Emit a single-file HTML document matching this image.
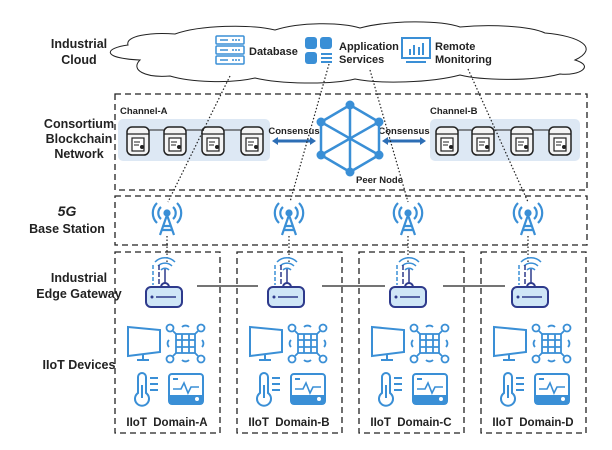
<!DOCTYPE html>
<html><head><meta charset="utf-8"><style>
body{margin:0;background:#fff}
svg{display:block;font-family:"Liberation Sans",sans-serif;font-weight:bold}
</style></head><body>
<svg width="612" height="450" viewBox="0 0 612 450" xmlns="http://www.w3.org/2000/svg">
<defs>
<g id="blk">
 <rect x="0" y="0" width="22" height="28" rx="5" fill="#f4f4f4" stroke="#222" stroke-width="1.5"/>
 <line x1="0" y1="7" x2="22" y2="7" stroke="#222" stroke-width="1.2"/>
 <rect x="5" y="11" width="12" height="13" fill="#fff" stroke="#222" stroke-width="1.2"/>
 <line x1="7" y1="15" x2="13" y2="15" stroke="#222"/><line x1="7" y1="18" x2="12" y2="18" stroke="#222"/>
 <circle cx="15" cy="20" r="2" fill="#222"/>
</g>
<g id="tower" fill="none" stroke="#3a8fd6" stroke-width="2.2">
 <circle cx="0" cy="0" r="2.5" fill="#3a8fd6"/>
 <path d="M-6,-6 A8,8 0 0 0 -6,6 M6,-6 A8,8 0 0 1 6,6 M-10,-10 A14,14 0 0 0 -10,10 M10,-10 A14,14 0 0 1 10,10"/>
 <path d="M0,2 L-7,22 M0,2 L7,22 M-4.5,13 L4.5,13 M-5.5,17 L5.5,17"/>
</g>
<g id="dom">
 <rect x="115" y="252" width="105" height="181" fill="none" stroke="#222" stroke-width="1.3" stroke-dasharray="6,4"/>
 <rect x="146" y="287" width="36" height="20" rx="5" fill="#cfe6f7" stroke="#2e3a8c" stroke-width="2"/>
 <line x1="156" y1="297" x2="176" y2="297" stroke="#2e3a8c" stroke-width="1.5"/>
 <circle cx="152" cy="297" r="1.5" fill="#2e3a8c"/>
 <path d="M161,287 a4,4 0 0 1 8,0" fill="none" stroke="#2e3a8c" stroke-width="2"/>
 <line x1="165" y1="283" x2="165" y2="268" stroke="#2e3a8c" stroke-width="1.5"/>
 <path d="M161,270 a5.5,5.5 0 0 1 8,0 M158,266 a10,10 0 0 1 14,0 M155,262 a14,14 0 0 1 20,0" fill="none" stroke="#3a8fd6" stroke-width="1.5"/>
 <line x1="153" y1="265" x2="153" y2="285" stroke="#3a8fd6" stroke-width="1.5" stroke-dasharray="4,2"/>
 <line x1="159" y1="265" x2="159" y2="285" stroke="#2e3a8c" stroke-width="1.5" stroke-dasharray="5,2"/>
 <path d="M128,327 L160,330 L160,352 L128,356 Z" fill="none" stroke="#3a8fd6" stroke-width="2"/>
 <line x1="143" y1="355" x2="143" y2="360" stroke="#3a8fd6" stroke-width="2"/>
 <line x1="137" y1="360" x2="149" y2="360" stroke="#3a8fd6" stroke-width="2"/>
 <g fill="none" stroke="#3a8fd6" stroke-width="1.8">
  <rect x="176" y="334" width="19" height="19"/>
  <circle cx="170" cy="328" r="3.5"/><circle cx="201" cy="328" r="3.5"/><circle cx="170" cy="359" r="3.5"/><circle cx="201" cy="359" r="3.5"/>
  <line x1="173" y1="331" x2="176" y2="334"/><line x1="198" y1="331" x2="195" y2="334"/><line x1="173" y1="356" x2="176" y2="353"/><line x1="198" y1="356" x2="195" y2="353"/>
  <line x1="182" y1="334" x2="182" y2="353"/><line x1="189" y1="334" x2="189" y2="353"/><line x1="176" y1="340" x2="195" y2="340"/><line x1="176" y1="347" x2="195" y2="347"/>
  <path d="M182,327 a5,5 0 0 1 7,0 M182,360 a5,5 0 0 0 7,0 M169,340 a5,5 0 0 0 0,7 M202,340 a5,5 0 0 1 0,7"/>
 </g>
 <g fill="none" stroke="#3a8fd6" stroke-width="2">
  <path d="M138,393 L138,377 a4,4 0 0 1 8,0 L146,393 a7,7 0 1 1 -8,0 Z"/>
  <line x1="142" y1="385" x2="142" y2="398"/>
  <line x1="150" y1="378" x2="158" y2="378"/><line x1="150" y1="384" x2="158" y2="384"/><line x1="150" y1="390" x2="158" y2="390"/>
 </g>
 <rect x="169" y="374" width="34" height="30" rx="3" fill="none" stroke="#3a8fd6" stroke-width="2"/>
 <rect x="169" y="395" width="34" height="9" fill="#3a8fd6"/>
 <circle cx="197" cy="399" r="2" fill="#fff"/>
 <line x1="173" y1="379" x2="178" y2="379" stroke="#3a8fd6" stroke-width="2"/>
 <path d="M173,389 L181,389 L184,383 L188,393 L191,387 L199,387" fill="none" stroke="#3a8fd6" stroke-width="1.6"/>
</g>
</defs>

<g font-size="12.5" fill="#222" text-anchor="middle">
<text x="79" y="48">Industrial</text><text x="79" y="64">Cloud</text>
<text x="79" y="128">Consortium</text><text x="79" y="143">Blockchain</text><text x="79" y="158">Network</text>
<text x="67" y="216" font-size="14" font-style="italic">5G</text><text x="67" y="233">Base Station</text>
<text x="79" y="282">Industrial</text><text x="79" y="298">Edge Gateway</text>
<text x="79" y="369">IIoT Devices</text>
</g>

<path d="M140,60 C100,58 105,48 128,45 C125,36 150,32 175,34 C200,25 250,24 275,30 C300,22 340,22 360,28 C390,20 440,20 460,27 C490,24 530,26 545,33 C580,36 600,48 575,60 C595,66 580,76 560,74 C530,82 480,80 460,75 C430,83 380,84 355,79 C330,85 280,84 255,78 C230,84 190,82 170,76 C145,78 130,70 140,60 Z" fill="#fff" stroke="#222" stroke-width="1"/>
<g fill="none" stroke="#3a8fd6" stroke-width="1.5">
<rect x="216" y="36" width="28" height="8" rx="1"/><rect x="216" y="46" width="28" height="8" rx="1"/><rect x="216" y="56" width="28" height="8" rx="1"/>
<line x1="220" y1="40" x2="228" y2="40"/><line x1="220" y1="50" x2="228" y2="50"/><line x1="220" y1="60" x2="228" y2="60"/>
</g>
<g fill="#3a8fd6"><circle cx="233" cy="40" r="1"/><circle cx="236" cy="40" r="1"/><circle cx="239" cy="40" r="1"/><circle cx="233" cy="50" r="1"/><circle cx="236" cy="50" r="1"/><circle cx="239" cy="50" r="1"/><circle cx="233" cy="60" r="1"/><circle cx="236" cy="60" r="1"/><circle cx="239" cy="60" r="1"/></g>
<text x="249" y="55" font-size="11" fill="#222">Database</text>
<g fill="#3a8fd6"><rect x="305" y="37" width="12" height="12" rx="3"/><rect x="320" y="37" width="12" height="12" rx="3"/><rect x="305" y="52" width="12" height="12" rx="3"/>
<rect x="321" y="53" width="11" height="2"/><rect x="321" y="57" width="11" height="2"/><rect x="321" y="61" width="11" height="2"/></g>
<text x="339" y="50" font-size="11" fill="#222">Application</text><text x="339" y="63" font-size="11" fill="#222">Services</text>
<g fill="none" stroke="#3a8fd6" stroke-width="2"><rect x="402" y="38" width="28" height="20"/><line x1="406" y1="62" x2="426" y2="62"/></g>
<g fill="#3a8fd6"><rect x="409" y="49" width="2" height="6"/><rect x="413" y="45" width="2" height="10"/><rect x="418" y="47" width="2" height="8"/><rect x="422" y="43" width="2" height="12"/></g>
<text x="435" y="50" font-size="11" fill="#222">Remote</text><text x="435" y="63" font-size="11" fill="#222">Monitoring</text>

<rect x="115" y="94" width="472" height="96" fill="none" stroke="#222" stroke-width="1.3" stroke-dasharray="6,4"/>
<text x="120" y="114" font-size="9.5" fill="#222">Channel-A</text>
<text x="430" y="114" font-size="9.5" fill="#222">Channel-B</text>
<rect x="118" y="119" width="152" height="42" rx="5" fill="#dde8f4"/>
<rect x="430" y="119" width="150" height="42" rx="5" fill="#dde8f4"/>
<g stroke="#222" stroke-width="1"><line x1="149" y1="130" x2="164" y2="130"/><line x1="186" y1="130" x2="202" y2="130"/><line x1="224" y1="130" x2="241" y2="130"/>
<line x1="458" y1="130" x2="472" y2="130"/><line x1="494" y1="130" x2="511" y2="130"/><line x1="533" y1="130" x2="549" y2="130"/></g>
<use href="#blk" x="127" y="127"/><use href="#blk" x="164" y="127"/><use href="#blk" x="202" y="127"/><use href="#blk" x="241" y="127"/>
<use href="#blk" x="436" y="127"/><use href="#blk" x="472" y="127"/><use href="#blk" x="511" y="127"/><use href="#blk" x="549" y="127"/>
<text x="294" y="134" font-size="9.5" fill="#222" text-anchor="middle">Consensus</text>
<text x="404" y="134" font-size="9.5" fill="#222" text-anchor="middle">Consensus</text>
<g fill="#2d6eb5"><path d="M272,141 L278,137 L278,139.5 L310,139.5 L310,137 L316,141 L310,145 L310,142.5 L278,142.5 L278,145 Z"/>
<path d="M382,141 L388,137 L388,139.5 L420,139.5 L420,137 L426,141 L420,145 L420,142.5 L388,142.5 L388,145 Z"/></g>
<g stroke="#3a8fd6" stroke-width="2.5" fill="none">
<path d="M350,105 L379,122 L379,155 L350,172 L321,155 L321,122 Z"/>
<line x1="350" y1="105" x2="350" y2="172"/><line x1="321" y1="122" x2="379" y2="155"/><line x1="379" y1="122" x2="321" y2="155"/>
</g>
<g fill="#3a8fd6"><circle cx="350" cy="105" r="4.5"/><circle cx="379" cy="122" r="4.5"/><circle cx="379" cy="155" r="4.5"/><circle cx="350" cy="172" r="4.5"/><circle cx="321" cy="155" r="4.5"/><circle cx="321" cy="122" r="4.5"/></g>
<text x="356" y="183" font-size="9.5" fill="#222">Peer Node</text>

<rect x="115" y="196" width="472" height="49" fill="none" stroke="#222" stroke-width="1.3" stroke-dasharray="6,4"/>
<use href="#tower" x="167" y="213"/><use href="#tower" x="289" y="213"/><use href="#tower" x="408" y="213"/><use href="#tower" x="528" y="213"/>

<g stroke="#222" stroke-width="1.2" stroke-dasharray="1.5,2" fill="none">
<line x1="230" y1="76" x2="168" y2="202"/>
<line x1="329" y1="64" x2="290" y2="202"/>
<line x1="370" y1="70" x2="408" y2="202"/>
<line x1="468" y1="69" x2="528" y2="202"/>
<line x1="167" y1="236" x2="167" y2="262"/><line x1="289" y1="236" x2="289" y2="262"/><line x1="408" y1="236" x2="408" y2="262"/><line x1="528" y1="236" x2="528" y2="262"/>
</g>

<use href="#dom" x="0" y="0"/><use href="#dom" x="122" y="0"/><use href="#dom" x="244" y="0"/><use href="#dom" x="366" y="0"/>
<g font-size="11.5" fill="#222" text-anchor="middle">
<text x="167" y="426" xml:space="preserve">IIoT  Domain-A</text>
<text x="289" y="426" xml:space="preserve">IIoT  Domain-B</text>
<text x="411" y="426" xml:space="preserve">IIoT  Domain-C</text>
<text x="533" y="426" xml:space="preserve">IIoT  Domain-D</text>
</g>
<g stroke="#222" stroke-width="1.3">
<line x1="197" y1="286" x2="258" y2="286"/><line x1="322" y1="286" x2="385" y2="286"/><line x1="443" y1="286" x2="505" y2="286"/>
</g>
</svg>
</body></html>
